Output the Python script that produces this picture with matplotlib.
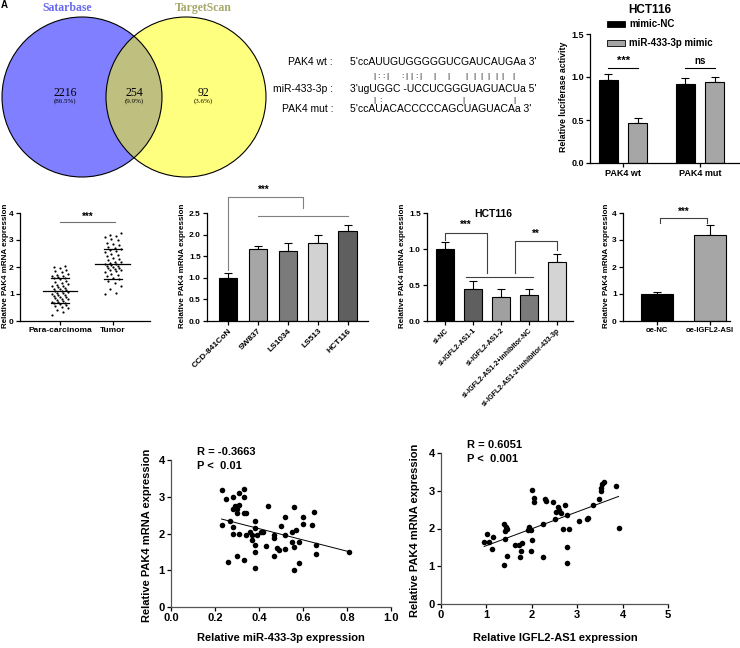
import numpy as np
import matplotlib
matplotlib.use('Agg')
import matplotlib.pyplot as plt
from matplotlib.patches import Circle

plt.rcParams['font.family'] = ['Liberation Sans', 'DejaVu Sans']
plt.rcParams['font.weight'] = 'bold'
plt.rcParams['axes.labelweight'] = 'bold'

# ---- data ----
venn_names = ['Satarbase', 'TargetScan']
venn_counts = [2216, 254, 92]
venn_pcts = ['(86.5%)', '(9.9%)', '(3.6%)']

seq_labels = ['PAK4 wt :', 'miR-433-3p :', 'PAK4 mut :']
seqs = ["5'ccAUUGUGGGGGUCGAUCAUGAa 3'", "3'ugUGGC -UCCUCGGGUAGUACUa 5'", "5'ccAUACACCCCCAGCUAGUACAa 3'"]
pair1 = '|::|:||:||||||||||'
pair2 = '|:||'

luc_groups = ['PAK4 wt', 'PAK4 mut']
luc_nc = [0.96, 0.92]
luc_nc_sd = [0.08, 0.07]
luc_mim = [0.46, 0.94]
luc_mim_sd = [0.06, 0.06]

tis_groups = ['Para-carcinoma', 'Tumor']
para = [0.22, 0.35, 0.42, 0.48, 0.52, 0.55, 0.58, 0.62, 0.65, 0.66, 0.70, 0.72, 0.75, 0.78,
        0.80, 0.82, 0.85, 0.88, 0.90, 0.92, 0.95, 0.98, 1.00, 1.02, 1.05, 1.08, 1.10, 1.12,
        1.15, 1.18, 1.20, 1.22, 1.25, 1.28, 1.30, 1.35, 1.38, 1.42, 1.45, 1.50, 1.55, 1.58,
        1.60, 1.62, 1.65, 1.68, 1.70, 1.75, 1.80, 1.85, 1.90, 1.95, 2.00, 2.05]
tumor = [1.00, 1.05, 1.20, 1.30, 1.42, 1.50, 1.55, 1.60, 1.65, 1.70, 1.75, 1.80, 1.85, 1.88,
         1.90, 1.92, 1.95, 1.97, 2.00, 2.02, 2.05, 2.08, 2.10, 2.12, 2.15, 2.18, 2.20, 2.25,
         2.30, 2.35, 2.40, 2.45, 2.50, 2.55, 2.60, 2.62, 2.65, 2.70, 2.75, 2.80, 2.85, 2.90,
         3.00, 3.05, 3.10, 3.15, 3.20, 3.25]
tis_mean = [1.12, 2.10]
tis_sd = [0.46, 0.55]

cells = ['CCD-841CoN', 'SW837', 'LS1034', 'LS513', 'HCT116']
cell_val = [0.99, 1.67, 1.62, 1.80, 2.09]
cell_sd = [0.11, 0.06, 0.18, 0.18, 0.14]
cell_col = ['#000000', '#a6a6a6', '#7b7b7b', '#d2d2d2', '#5f5f5f']

si_groups = ['si-NC', 'si-IGFL2-AS1-1', 'si-IGFL2-AS1-2', 'si-IGFL2-AS1-2+inhibitor-NC',
             'si-IGFL2-AS1-2+inhibitor-433-3p']
si_val = [1.00, 0.45, 0.34, 0.36, 0.82]
si_sd = [0.10, 0.10, 0.10, 0.09, 0.11]
si_col = ['#000000', '#5f5f5f', '#a0a0a0', '#7a7a7a', '#d4d4d4']

oe_groups = ['oe-NC', 'oe-IGFL2-ASI']
oe_val = [1.00, 3.20]
oe_sd = [0.07, 0.35]

mir_x = [0.23, 0.25, 0.28, 0.31, 0.33, 0.33, 0.23, 0.27, 0.28, 0.28, 0.31, 0.29, 0.30, 0.31,
         0.28, 0.30, 0.33, 0.34, 0.26, 0.30, 0.33, 0.38, 0.34, 0.36, 0.37, 0.38, 0.38, 0.37,
         0.38, 0.38, 0.39, 0.41, 0.42, 0.43, 0.44, 0.47, 0.47, 0.48, 0.49, 0.47, 0.50, 0.52,
         0.52, 0.52, 0.55, 0.55, 0.56, 0.56, 0.56, 0.57, 0.58, 0.58, 0.60, 0.60, 0.64, 0.65,
         0.66, 0.66, 0.81]
mir_y = [3.19, 2.93, 2.99, 3.10, 3.20, 3.00, 2.22, 2.33, 2.17, 1.99, 1.98, 2.76, 2.66, 2.77,
         2.66, 2.57, 2.57, 2.55, 1.22, 1.38, 1.27, 1.05, 1.95, 2.05, 1.95, 2.33, 2.14, 1.83,
         1.69, 1.49, 1.95, 2.05, 2.05, 1.67, 2.75, 1.96, 1.89, 1.60, 1.56, 1.38, 2.21, 2.44,
         1.96, 1.58, 2.05, 1.78, 2.71, 1.63, 1.01, 2.10, 1.78, 1.21, 2.44, 2.26, 2.22, 2.58,
         1.69, 1.45, 1.51]

ig_x = [0.95, 1.02, 1.05, 1.14, 1.13, 1.38, 1.39, 1.41, 1.43, 1.46, 1.42, 1.46, 1.62, 1.71,
        1.79, 1.74, 1.77, 1.92, 1.93, 1.98, 2.00, 1.98, 2.00, 2.05, 2.04, 2.24, 2.25, 2.30,
        2.31, 2.46, 2.52, 2.57, 2.59, 2.53, 2.65, 2.68, 2.74, 2.77, 2.78, 2.78, 2.83, 3.05,
        3.24, 3.21, 3.34, 3.47, 3.52, 3.52, 3.55, 3.60, 3.85, 3.91]
ig_y = [1.65, 1.85, 1.63, 1.78, 1.47, 1.02, 2.11, 1.93, 2.05, 1.99, 1.72, 1.28, 1.55, 1.57,
        1.61, 1.24, 1.40, 1.96, 2.05, 1.96, 1.69, 1.40, 3.03, 2.80, 2.70, 2.12, 1.25, 2.77,
        2.73, 2.69, 2.24, 2.58, 2.49, 2.45, 2.40, 1.98, 2.61, 2.36, 1.52, 1.08, 1.98, 2.19,
        2.27, 2.24, 2.61, 2.78, 2.99, 3.06, 3.19, 3.24, 3.13, 2.02]

# ---- layout in pixels ----
W, H = 740, 648
fig = plt.figure(figsize=(W / 100, H / 100), dpi=100)

# overlay axes in pixel coords for venn, sequences and loose labels (kept on top)
bg = fig.add_axes([0, 0, 1, 1])
bg.set_xlim(0, W)
bg.set_ylim(H, 0)
bg.axis('off')
bg.set_zorder(10)
bg.patch.set_visible(False)


def add_ax(l, t, r, b):
    a = fig.add_axes([l / W, 1 - b / H, (r - l) / W, (b - t) / H])
    a.patch.set_visible(False)
    return a


def style(ax, fs):
    ax.spines[['top', 'right']].set_visible(False)
    ax.spines[['left', 'bottom']].set_linewidth(0.9)
    ax.tick_params(direction='out', length=3, width=0.9, labelsize=fs, pad=1.5)


def bars(ax, x, vals, sds, cols, w):
    ax.bar(x, vals, w, color=cols, edgecolor='black', linewidth=0.8, zorder=2)
    ax.errorbar(x, vals, yerr=[np.zeros(len(vals)), sds], fmt='none', ecolor='black',
                elinewidth=0.8, capsize=3, capthick=0.8, zorder=1)


def ylab(text, x, y, fs):
    bg.text(x, y, text, rotation=90, ha='center', va='center', fontsize=fs)


# ---- A: venn ----
bg.add_patch(Circle((82, 97), 80, facecolor='blue', alpha=0.5, lw=0))
bg.add_patch(Circle((186, 97), 80, facecolor='yellow', alpha=0.5, lw=0))
bg.add_patch(Circle((82, 97), 80, facecolor='none', edgecolor='black', lw=0.8))
bg.add_patch(Circle((186, 97), 80, facecolor='none', edgecolor='black', lw=0.8))
serif = ['Liberation Serif', 'DejaVu Serif']
bg.text(67, 8, venn_names[0], color='#6a6af0', ha='center', va='center', fontsize=8.5, family=serif)
bg.text(203, 8, venn_names[1], color='#a8a86a', ha='center', va='center', fontsize=8.5, family=serif)
for cx, n, p in zip([65, 134, 203], venn_counts, venn_pcts):
    bg.text(cx, 93, str(n), ha='center', va='center', fontsize=8.5, weight='normal', family=serif)
    bg.text(cx, 101.5, p, ha='center', va='center', fontsize=5, weight='normal', family=serif)
bg.text(4, 5, 'A', ha='center', va='center', fontsize=7)

# ---- B: sequences ----
for yy, lab, s in zip([62, 89, 109], seq_labels, seqs):
    bg.text(333, yy, lab, ha='right', va='center', fontsize=7.5, weight='normal')
    bg.text(350, yy, s, ha='left', va='center', fontsize=7.5, weight='normal')
p1x = [372, 386, 400, 412, 458, 470, 484, 498, 512, 552, 596, 650, 672, 694, 716, 738, 758, 790]
p2x = [372, 392, 640, 792]
for zx, ch in zip(p1x, pair1):
    bg.text(250 + zx / 3, 76, ch, ha='center', va='center', fontsize=6, weight='normal')
for zx, ch in zip(p2x, pair2):
    bg.text(250 + zx / 3, 101, ch, ha='center', va='center', fontsize=6, weight='normal')

# ---- C: luciferase ----
ax = add_ax(590, 34, 740, 163)
x = np.arange(len(luc_groups))
bars(ax, x - 0.19, luc_nc, luc_nc_sd, 'black', 0.24)
bars(ax, x + 0.19, luc_mim, luc_mim_sd, '#a6a6a6', 0.24)
ax.set_xlim(-0.43, 1.52)
ax.set_ylim(0, 1.5)
ax.set_yticks([0, 0.5, 1.0, 1.5], ['0.0', '0.5', '1.0', '1.5'])
ax.set_xticks(x, luc_groups)
style(ax, 6.5)
ax.plot([-0.19, 0.19], [1.10, 1.10], color='black', lw=0.8)
ax.text(0, 1.13, '***', ha='center', va='bottom', fontsize=8)
ax.plot([0.81, 1.19], [1.10, 1.10], color='black', lw=0.8)
ax.text(1, 1.13, 'ns', ha='center', va='bottom', fontsize=7)
bg.text(650, 10, 'HCT116', ha='center', va='center', fontsize=8.5)
for yy, c, lab in [(24, 'black', 'mimic-NC'), (43, '#a6a6a6', 'miR-433-3p mimic')]:
    bg.add_patch(plt.Rectangle((607, yy - 3), 18, 6, facecolor=c, edgecolor='black', lw=0.6))
    bg.text(629, yy, lab, ha='left', va='center', fontsize=7)
ylab('Relative luciferase activity', 564, 97, 6.3)

# ---- D: tissue dot plot ----
ax = add_ax(20, 213, 150, 321)
for i, vals in enumerate([para, tumor]):
    n = len(vals)
    off = (np.arange(n) * 7 % 11 - 5) / 5 * 0.15
    ax.scatter(i + off, vals, s=2.5, color='black', zorder=3, lw=0)
    ax.plot([i - 0.33, i + 0.33], [tis_mean[i]] * 2, color='black', lw=0.9)
    for sgn in (-1, 1):
        ax.plot([i - 0.17, i + 0.17], [tis_mean[i] + sgn * tis_sd[i]] * 2, color='black', lw=0.9)
ax.plot([0, 1.04], [3.65, 3.65], color='#707070', lw=0.8)
ax.text(0.52, 3.68, '***', ha='center', va='bottom', fontsize=7)
ax.set_xlim(-0.755, 1.70)
ax.set_ylim(0, 4)
ax.set_yticks(range(5))
ax.set_xticks([0, 1], tis_groups)
style(ax, 6)
ylab('Relative PAK4 mRNA expression', 6, 266, 5.8)

# ---- E: cell lines ----
ax = add_ax(207, 213, 368, 321)
x = np.arange(len(cells))
bars(ax, x, cell_val, cell_sd, cell_col, 0.63)
ax.set_xlim(-0.7, 4.67)
ax.set_ylim(0, 2.5)
ax.set_yticks([0, 0.5, 1.0, 1.5, 2.0, 2.5], ['0.0', '0.5', '1.0', '1.5', '2.0', '2.5'])
ax.set_xticks(x, cells, rotation=45, ha='right', rotation_mode='anchor')
style(ax, 6)
gc = '#808080'
ax.plot([0, 0, 2.5, 2.5], [1.19, 2.88, 2.88, 2.62], color=gc, lw=0.8, clip_on=False)
ax.plot([1, 4], [2.44, 2.44], color=gc, lw=0.8, clip_on=False)
ax.text(1.2, 2.92, '***', ha='center', va='bottom', fontsize=7, clip_on=False)
ylab('Relative PAK4 mRNA expression', 183, 266, 5.8)

# ---- F: si knockdown ----
ax = add_ax(427, 213, 573, 321)
x = np.arange(len(si_groups))
bars(ax, x, si_val, si_sd, si_col, 0.64)
ax.set_xlim(-0.64, 4.57)
ax.set_ylim(0, 1.5)
ax.set_yticks([0, 0.5, 1.0, 1.5], ['0.0', '0.5', '1.0', '1.5'])
ax.set_xticks(x, si_groups, rotation=45, ha='right', rotation_mode='anchor', fontsize=5)
style(ax, 6)
ax.tick_params(axis='x', labelsize=5)
gc = '#404040'
ax.plot([0, 0, 1.5, 1.5], [1.12, 1.22, 1.22, 0.66], color=gc, lw=0.8)
ax.plot([0.75, 3.15], [0.61, 0.61], color=gc, lw=0.8)
ax.text(0.75, 1.26, '***', ha='center', va='bottom', fontsize=7)
ax.plot([2.5, 2.5, 4, 4], [0.66, 1.11, 1.11, 0.99], color=gc, lw=0.8)
ax.text(3.25, 1.14, '**', ha='center', va='bottom', fontsize=7)
bg.text(493, 214, 'HCT116', ha='center', va='center', fontsize=7.5)
ylab('Relative PAK4 mRNA expression', 403, 266, 5.8)

# ---- G: overexpression ----
ax = add_ax(623, 213, 730, 321)
x = np.arange(len(oe_groups))
bars(ax, x, oe_val, oe_sd, ['black', '#a6a6a6'], 0.6)
ax.set_xlim(-0.64, 1.38)
ax.set_ylim(0, 4)
ax.set_yticks(range(5))
ax.set_xticks(x, oe_groups)
style(ax, 6)
ax.tick_params(axis='x', labelsize=5.5)
ax.plot([0.05, 0.05, 0.94, 0.94], [3.63, 3.82, 3.82, 3.63], color='#404040', lw=0.8)
ax.text(0.5, 3.86, '***', ha='center', va='bottom', fontsize=7)
ylab('Relative PAK4 mRNA expression', 607, 266, 5.8)

# ---- H, I: correlations ----
for (l, t, r, b), xs, ys, xmax, xt, xfmt, rtxt, ptxt, xl, xlx, ylx in [
        ((171, 460, 391, 607), mir_x, mir_y, 1.0, np.arange(0, 1.01, 0.2), '{:.1f}',
         'R = -0.3663', 'P <  0.01', 'Relative miR-433-3p expression', 281, 147),
        ((441, 453, 668, 604), ig_x, ig_y, 5, range(6), '{:d}',
         'R = 0.6051', 'P <  0.001', 'Relative IGFL2-AS1 expression', 555, 415)]:
    ax = add_ax(l, t, r, b)
    ax.scatter(xs, ys, s=16, color='black', lw=0, zorder=3)
    k, c0 = np.polyfit(xs, ys, 1)
    xx = np.array([min(xs), max(xs)])
    ax.plot(xx, k * xx + c0, color='black', lw=0.7)
    ax.set_xlim(0, xmax)
    ax.set_ylim(0, 4)
    ax.set_yticks(range(5))
    ax.set_xticks(list(xt), [xfmt.format(v) for v in xt])
    style(ax, 8)
    ax.spines[['left', 'bottom']].set_color('#555555')
    bg.text(l + 26, t - 8, rtxt, ha='left', va='center', fontsize=8)
    bg.text(l + 26, t + 6, ptxt, ha='left', va='center', fontsize=8)
    bg.text(xlx, 638, xl, ha='center', va='center', fontsize=8)
    ylab('Relative PAK4 mRNA expression', ylx, (t + b) / 2 + 2, 8)

fig.savefig('out.png', dpi=100)
